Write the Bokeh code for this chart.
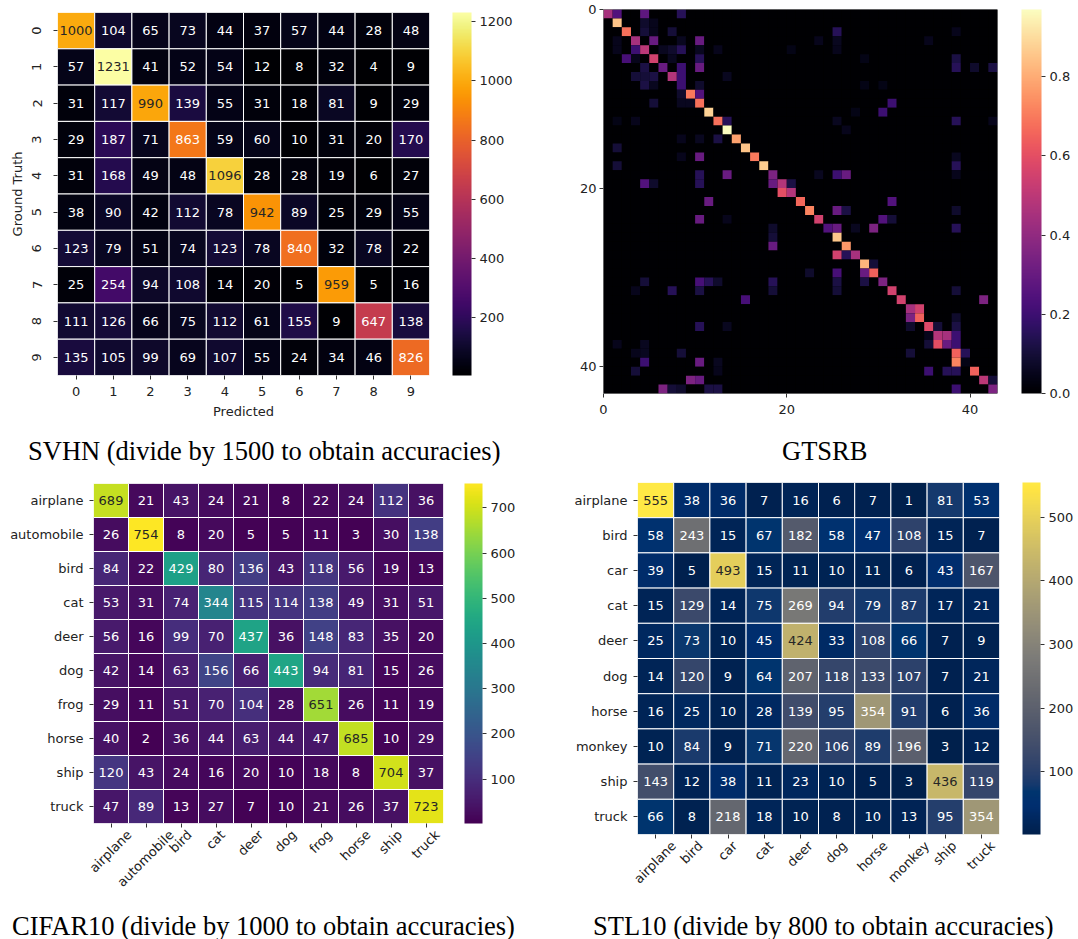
import numpy as np
from math import pi
from bokeh.plotting import figure
from bokeh.models import (ColumnDataSource, FactorRange, LinearColorMapper, ColorBar,
                          FixedTicker, Range1d, PrintfTickFormatter, Div, LinearAxis)
from bokeh.palettes import Inferno256, Magma256, Viridis256, Cividis256
from bokeh.layouts import row, column
from bokeh.core.properties import value
from bokeh.embed import file_html
from bokeh.resources import INLINE

# ---------------- data ----------------
svhn_labels = [str(i) for i in range(10)]
svhn_values = [
    [1000, 104, 65, 73, 44, 37, 57, 44, 28, 48],
    [57, 1231, 41, 52, 54, 12, 8, 32, 4, 9],
    [31, 117, 990, 139, 55, 31, 18, 81, 9, 29],
    [29, 187, 71, 863, 59, 60, 10, 31, 20, 170],
    [31, 168, 49, 48, 1096, 28, 28, 19, 6, 27],
    [38, 90, 42, 112, 78, 942, 89, 25, 29, 55],
    [123, 79, 51, 74, 123, 78, 840, 32, 78, 22],
    [25, 254, 94, 108, 14, 20, 5, 959, 5, 16],
    [111, 126, 66, 75, 112, 61, 155, 9, 647, 138],
    [135, 105, 99, 69, 107, 55, 24, 34, 46, 826],
]
svhn_ticks = [200, 400, 600, 800, 1000, 1200]

cifar_labels = ["airplane", "automobile", "bird", "cat", "deer", "dog", "frog", "horse", "ship", "truck"]
cifar_values = [
    [689, 21, 43, 24, 21, 8, 22, 24, 112, 36],
    [26, 754, 8, 20, 5, 5, 11, 3, 30, 138],
    [84, 22, 429, 80, 136, 43, 118, 56, 19, 13],
    [53, 31, 74, 344, 115, 114, 138, 49, 31, 51],
    [56, 16, 99, 70, 437, 36, 148, 83, 35, 20],
    [42, 14, 63, 156, 66, 443, 94, 81, 15, 26],
    [29, 11, 51, 70, 104, 28, 651, 26, 11, 19],
    [40, 2, 36, 44, 63, 44, 47, 685, 10, 29],
    [120, 43, 24, 16, 20, 10, 18, 8, 704, 37],
    [47, 89, 13, 27, 7, 10, 21, 26, 37, 723],
]
cifar_ticks = [100, 200, 300, 400, 500, 600, 700]

stl_labels = ["airplane", "bird", "car", "cat", "deer", "dog", "horse", "monkey", "ship", "truck"]
stl_values = [
    [555, 38, 36, 7, 16, 6, 7, 1, 81, 53],
    [58, 243, 15, 67, 182, 58, 47, 108, 15, 7],
    [39, 5, 493, 15, 11, 10, 11, 6, 43, 167],
    [15, 129, 14, 75, 269, 94, 79, 87, 17, 21],
    [25, 73, 10, 45, 424, 33, 108, 66, 7, 9],
    [14, 120, 9, 64, 207, 118, 133, 107, 7, 21],
    [16, 25, 10, 28, 139, 95, 354, 91, 6, 36],
    [10, 84, 9, 71, 220, 106, 89, 196, 3, 12],
    [143, 12, 38, 11, 23, 10, 5, 3, 436, 119],
    [66, 8, 218, 18, 10, 8, 10, 13, 95, 354],
]
stl_ticks = [100, 200, 300, 400, 500]

gtsrb_n = 43
gtsrb_diag = [0.45, 0.85, 0.68, 0.45, 0.50, 0.55, 0.30, 0.48, 0.20, 0.70,
              0.68, 0.88, 0.68, 0.97, 0.78, 0.85, 0.70, 0.87, 0.35, 0.48,
              0.48, 0.66, 0.72, 0.55, 0.25, 0.86, 0.76, 0.45, 0.82, 0.65,
              0.35, 0.55, 0.55, 0.45, 0.65, 0.58, 0.48, 0.30, 0.65, 0.04,
              0.65, 0.50, 0.35]
gtsrb_rows = [0, 0, 0, 1, 1, 2, 2, 2, 2, 2, 3, 3, 3, 3, 3, 3, 3,
              4, 4, 4, 4, 4, 4, 4, 4, 4, 5, 5, 5, 5, 5, 5,
              6, 6, 6, 6, 6, 6, 7, 7, 7, 7, 7, 8, 8, 8, 8, 8,
              9, 9, 10, 10, 10, 10, 11, 11, 12, 12, 12, 12, 12, 12, 13,
              14, 14, 14, 15, 16, 16, 16, 17, 17, 18, 18, 18, 18, 18, 18,
              19, 19, 19, 19, 19, 20, 21, 21, 22, 22, 22, 23, 23, 23, 23,
              24, 24, 24, 24, 24, 25, 26, 27, 27, 28, 29, 29, 29,
              30, 30, 30, 30, 30, 30, 30, 31, 31, 31, 31, 31, 31, 32, 32, 33,
              34, 34, 35, 35, 35, 35, 35, 36, 36, 36, 37, 37, 37, 37, 37,
              38, 38, 38, 38, 38, 39, 39, 39, 39, 40, 40, 40, 40, 40,
              41, 41, 41, 42, 42, 42, 42, 42, 42]
gtsrb_cols = [1, 4, 8, 4, 5, 4, 5, 7, 25, 38, 1, 5, 8, 10, 23, 25, 35,
              1, 3, 6, 7, 8, 10, 12, 20, 25, 2, 3, 7, 10, 28, 38,
              4, 8, 10, 38, 40, 42, 3, 4, 5, 8, 13, 4, 5, 10, 28, 30,
              8, 10, 5, 8, 9, 31, 30, 27, 1, 3, 13, 25, 38, 42, 26,
              8, 10, 12, 1, 10, 8, 38, 1, 38, 10, 13, 23, 25, 26, 38,
              4, 5, 10, 18, 20, 19, 11, 31, 25, 26, 38, 10, 13, 30, 31,
              18, 25, 27, 29, 38, 18, 18, 25, 26, 29, 22, 25, 28,
              4, 10, 11, 12, 18, 25, 28, 3, 7, 10, 18, 25, 38, 15, 41, 34,
              33, 38, 10, 13, 33, 36, 38, 35, 37, 38, 1, 4, 35, 36, 38,
              3, 4, 8, 33, 39, 4, 10, 12, 38, 3, 12, 35, 37, 38,
              9, 10, 42, 6, 7, 8, 11, 12, 38]
gtsrb_offvals = [0.25, 0.28, 0.15, 0.08, 0.05, 0.10, 0.05, 0.10, 0.15, 0.05, 0.05, 0.30, 0.06, 0.30, 0.05, 0.06, 0.05,
                 0.05, 0.20, 0.06, 0.08, 0.15, 0.06, 0.05, 0.04, 0.05, 0.22, 0.05, 0.06, 0.15, 0.04, 0.12,
                 0.12, 0.20, 0.30, 0.15, 0.08, 0.12, 0.10, 0.10, 0.12, 0.20, 0.06, 0.12, 0.06, 0.08, 0.04, 0.04,
                 0.08, 0.25, 0.10, 0.06, 0.06, 0.20, 0.20, 0.04, 0.04, 0.05, 0.15, 0.06, 0.15, 0.05, 0.05,
                 0.05, 0.06, 0.12, 0.10, 0.30, 0.05, 0.06, 0.10, 0.15, 0.15, 0.30, 0.06, 0.20, 0.30, 0.05,
                 0.25, 0.08, 0.15, 0.30, 0.12, 0.60, 0.30, 0.25, 0.30, 0.12, 0.08, 0.30, 0.05, 0.25, 0.10,
                 0.08, 0.30, 0.06, 0.35, 0.15, 0.10, 0.30, 0.55, 0.15, 0.10, 0.08, 0.22, 0.30,
                 0.10, 0.22, 0.15, 0.08, 0.15, 0.12, 0.12, 0.05, 0.15, 0.12, 0.10, 0.10, 0.10, 0.22, 0.35, 0.55,
                 0.35, 0.08, 0.15, 0.06, 0.08, 0.10, 0.12, 0.05, 0.45, 0.20, 0.05, 0.06, 0.10, 0.60, 0.20,
                 0.05, 0.06, 0.10, 0.10, 0.15, 0.20, 0.30, 0.06, 0.72, 0.10, 0.05, 0.20, 0.15, 0.15,
                 0.35, 0.30, 0.10, 0.35, 0.10, 0.08, 0.12, 0.12, 0.20]
gtsrb_ticks = [0, 20, 40]
gtsrb_cb_ticks = [0.0, 0.2, 0.4, 0.6, 0.8]

titles = ["SVHN (divide by 1500 to obtain accuracies)", "GTSRB",
          "CIFAR10 (divide by 1000 to obtain accuracies)", "STL10 (divide by 800 to obtain accuracies)"]

SANS = "DejaVu Sans"
SERIF = "Liberation Serif"
FS = "13px"
FS_PX = 13.0

# approximate DejaVu Sans advance widths (em) used to centre rotated tick labels under their ticks
CHAR_W = {"a": .613, "b": .635, "c": .550, "d": .635, "e": .615, "f": .352, "g": .635, "h": .634,
          "i": .278, "k": .579, "l": .278, "m": .974, "n": .634, "o": .612, "p": .635, "r": .411,
          "s": .521, "t": .392, "u": .634, "v": .592, "y": .592}


def text_px(s):
    return sum(CHAR_W.get(ch, .6) for ch in s) * FS_PX


def pal_color(v, low, high, palette):
    n = len(palette)
    f = (v - low) / (high - low)
    idx = int(np.clip(np.floor(f * n), 0, n - 1))
    return palette[idx]


def text_color(hexcol):
    rgb = np.array([int(hexcol[i:i + 2], 16) / 255 for i in (1, 3, 5)])
    rgb = np.where(rgb <= .03928, rgb / 12.92, ((rgb + .055) / 1.055) ** 2.4)
    lum = rgb.dot([.2126, .7152, .0722])
    return "#262626" if lum > .408 else "#ffffff"


def style_axis(ax):
    ax.axis_line_color = None
    ax.major_tick_in = 0
    ax.major_tick_out = 4
    ax.major_tick_line_color = "#333333"
    ax.minor_tick_line_color = None
    ax.major_label_text_font = SANS
    ax.major_label_text_font_size = FS
    ax.major_label_text_color = "#222222"
    ax.major_label_standoff = 3
    ax.axis_label_text_font = SANS
    ax.axis_label_text_font_size = FS
    ax.axis_label_text_font_style = "normal"
    ax.axis_label_text_color = "#222222"


def style_axes(p):
    p.grid.visible = False
    p.outline_line_color = None
    for ax in p.axis:
        style_axis(ax)


def add_colorbar(p, mapper, ticks, bar_w, frame_h, gap, fmt=None):
    cb = ColorBar(color_mapper=mapper, ticker=FixedTicker(ticks=ticks), width=bar_w, height=frame_h,
                  padding=0, margin=0, location=(gap, 0), bar_line_color=None,
                  border_line_color=None, background_fill_color=None,
                  major_tick_in=0, major_tick_out=4, major_tick_line_color="#333333",
                  minor_tick_line_color=None, label_standoff=4,
                  major_label_text_font=SANS, major_label_text_font_size=FS,
                  major_label_text_color="#222222")
    if fmt is not None:
        cb.formatter = fmt
    p.add_layout(cb, "right")


def caption(text, w, h, pad_left, pad_top):
    html = ('<div style="padding-left:%dpx; padding-top:%dpx; font-family:\'Liberation Serif\', serif; '
            'font-size:26.5px; line-height:1; color:#000; white-space:nowrap;">%s</div>'
            % (pad_left, pad_top, text))
    return Div(text=html, width=w, height=h, margin=(0, 0, 0, 0))


def cm_panel(labels, values, palette, ticks, w, h, left, right, top, bottom,
             gap, bar_w, rotated=False, yrot=None, xlabel=None, ylabel=None, xstand=3, ystand=3):
    n = len(labels)
    vals = np.array(values)
    low, high = vals.min(), vals.max()
    xs, ys, vs, txt, tc = [], [], [], [], []
    for r, lab_r in enumerate(labels):
        for c, lab_c in enumerate(labels):
            v = values[r][c]
            xs.append(c + 0.5 if rotated else lab_c)
            ys.append(lab_r)
            vs.append(v)
            txt.append(str(v))
            tc.append(text_color(pal_color(v, low, high, palette)))
    src = ColumnDataSource(dict(x=xs, y=ys, v=vs, t=txt, tc=tc))
    mapper = LinearColorMapper(palette=palette, low=low, high=high)
    x_range = Range1d(0, n) if rotated else FactorRange(factors=labels)
    p = figure(width=w, height=h, x_range=x_range,
               y_range=FactorRange(factors=labels[::-1]), output_backend="svg",
               toolbar_location=None, min_border_left=left, min_border_right=right,
               min_border_top=top, min_border_bottom=bottom)
    p.rect(x="x", y="y", width=1, height=1, source=src,
           fill_color={"field": "v", "transform": mapper}, line_color="#ffffff", line_width=1)
    p.text(x="x", y="y", text="t", source=src, text_color="tc", text_align="center",
           text_baseline="middle", text_font=value(SANS), text_font_size=FS)
    style_axes(p)
    p.xaxis.major_label_standoff = xstand
    p.yaxis.major_label_standoff = ystand
    if rotated:
        # tick marks at the cell centres (no labels); 45-degree labels centred under them on a companion axis
        centres = [i + 0.5 for i in range(n)]
        p.xaxis.ticker = FixedTicker(ticks=centres)
        p.xaxis.major_label_overrides = {cv: "" for cv in centres}
        p.xaxis.major_label_text_font_size = "0px"
        p.xaxis.major_label_standoff = 0
        cell_px = (w - left - right) / n
        pos = [i + 0.5 + (0.3536 * text_px(lab) - 0.5) / cell_px for i, lab in enumerate(labels)]
        lab_axis = LinearAxis(ticker=FixedTicker(ticks=pos),
                              major_label_overrides={pv: lab for pv, lab in zip(pos, labels)})
        style_axis(lab_axis)
        lab_axis.major_tick_out = 0
        lab_axis.major_tick_line_color = None
        lab_axis.major_label_orientation = pi / 4
        lab_axis.major_label_standoff = xstand
        p.add_layout(lab_axis, "below")
    if yrot is not None:
        p.yaxis.major_label_orientation = yrot
    if xlabel:
        p.xaxis.axis_label = xlabel
    if ylabel:
        p.yaxis.axis_label = ylabel
    frame_h = h - top - bottom
    add_colorbar(p, mapper, ticks, bar_w, frame_h, gap)
    return p


# ---------- SVHN ----------
p1 = cm_panel(svhn_labels, svhn_values, Inferno256, svhn_ticks, 560, 430, 57, 131, 12, 55,
              23, 19, yrot="vertical", xlabel="Predicted", ylabel="Ground Truth", xstand=7, ystand=12)

# ---------- GTSRB ----------
gmat = np.zeros((gtsrb_n, gtsrb_n))
for i, d in enumerate(gtsrb_diag):
    gmat[i, i] = d
for r, c, v in zip(gtsrb_rows, gtsrb_cols, gtsrb_offvals):
    gmat[r, c] = v
gx, gy, gv = [], [], []
for r in range(gtsrb_n):
    for c in range(gtsrb_n):
        gx.append(c + 0.5)
        gy.append(r + 0.5)
        gv.append(gmat[r, c])
gsrc = ColumnDataSource(dict(x=gx, y=gy, v=gv))
gmapper = LinearColorMapper(palette=Magma256, low=0.0, high=float(gmat.max()))
gw, gh, gl, gr, gt, gb = 518, 430, 43, 81, 9, 37
p2 = figure(width=gw, height=gh, x_range=Range1d(0, gtsrb_n), y_range=Range1d(gtsrb_n, 0),
            output_backend="svg", toolbar_location=None, min_border_left=gl, min_border_right=gr,
            min_border_top=gt, min_border_bottom=gb)
p2.background_fill_color = Magma256[0]
p2.rect(x="x", y="y", width=1, height=1, source=gsrc,
        fill_color={"field": "v", "transform": gmapper}, line_color=None)
style_axes(p2)
p2.xaxis.major_label_standoff = 7
p2.xaxis.ticker = FixedTicker(ticks=gtsrb_ticks)
p2.yaxis.ticker = FixedTicker(ticks=gtsrb_ticks)
add_colorbar(p2, gmapper, gtsrb_cb_ticks, 20, gh - gt - gb, 24, PrintfTickFormatter(format="%.1f"))

# ---------- CIFAR10 ----------
p3 = cm_panel(cifar_labels, cifar_values, Viridis256, cifar_ticks, 560, 430, 93, 117, 13, 77,
              21, 18, rotated=True, xstand=5, ystand=6)

# ---------- STL10 ----------
p4 = cm_panel(stl_labels, stl_values, Cividis256, stl_ticks, 518, 430, 77, 79, 12, 66,
              23, 18, rotated=True, xstand=5, ystand=6)

c1 = caption(titles[0], 560, 40, 28, 8)
c2 = caption(titles[1], 518, 40, 222, 8)
c3 = caption(titles[2], 560, 39, 12, 13)
c4 = caption(titles[3], 518, 39, 33, 13)

layout = column(row(column(p1), column(p2)), row(c1, c2),
                row(column(p3), column(p4)), row(c3, c4))
open("out.html", "w").write(file_html(layout, INLINE))
